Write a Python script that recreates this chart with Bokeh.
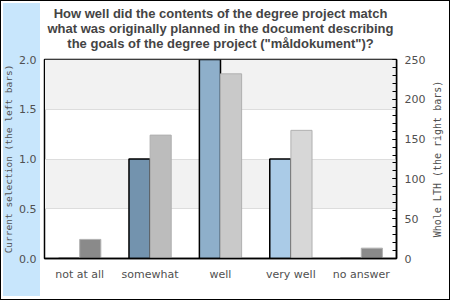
from bokeh.plotting import figure
from bokeh.layouts import row
from bokeh.models import (Range1d, FactorRange, LinearAxis, FixedTicker, NumeralTickFormatter,
                          ColumnDataSource, Title)
from bokeh.transform import dodge
from bokeh.embed import file_html
from bokeh.resources import INLINE

categories = ["not at all", "somewhat", "well", "very well", "no answer"]
current_selection = [0, 1, 2, 1, 0]
whole_lth = [24, 155, 232, 161, 13]
left_colors = ["#5f7f9a", "#7393ae", "#8eafca", "#aacbe7", "#c0d8ee"]
right_colors = ["#8a8a8a", "#bcbcbc", "#c9c9c9", "#d7d7d7", "#8a8a8a"]
left_ticks = [0, 0.5, 1.0, 1.5, 2.0]
right_ticks = [0, 50, 100, 150, 200, 250]
right_minor = list(range(0, 251, 10))
title_lines = ["How well did the contents of the degree project match",
               "what was originally planned in the document describing",
               "the goals of the degree project (\"måldokument\")?"]
left_title = "Current selection (the left bars)"
right_title = "Whole LTH (the right bars)"

lab_color = "#505050"
src = ColumnDataSource(dict(cat=categories, cur=current_selection, whole=whole_lth,
                            lc=left_colors, rc=right_colors))

p = figure(width=428, height=300, x_range=FactorRange(*categories), y_range=Range1d(0, 2),
           output_backend="svg", toolbar_location=None,
           min_border_left=40, min_border_right=31, min_border_top=59, min_border_bottom=42)
p.extra_y_ranges = {"right": Range1d(0, 250)}
p.background_fill_color = "white"
p.border_fill_color = None
p.outline_line_color = "black"
p.outline_line_width = 1.5


def title_line(text, standoff):
    return Title(text=text, align="center", standoff=standoff,
                 text_font="Liberation Sans", text_font_style="bold",
                 text_font_size="13px", text_color="#444444")


try:
    title_objs = [title_line(t, -2.5) for t in title_lines]
    spacer_standoff = 7
except Exception:
    title_objs = [title_line(t, 0) for t in title_lines]
    spacer_standoff = 4

# spacer between title block and frame, then title lines (added from the frame outward)
p.add_layout(Title(text=" ", text_font_size="1px", standoff=spacer_standoff), "above")
for t in reversed(title_objs):
    p.add_layout(t, "above")

p.vbar(x=dodge("cat", -0.15, range=p.x_range), top="cur", width=0.3, source=src,
       fill_color="lc", line_color="black", line_width=1.5)
p.vbar(x=dodge("cat", 0.15, range=p.x_range), top="whole", width=0.3, source=src,
       y_range_name="right", fill_color="rc", line_color="#b0b0b0", line_width=1)

p.xgrid.visible = False
p.ygrid.ticker = FixedTicker(ticks=left_ticks)
p.ygrid.grid_line_color = "#dddddd"
p.ygrid.band_fill_color = "#f2f2f2"
p.ygrid.band_fill_alpha = 1

ax = p.yaxis[0]
ax.ticker = FixedTicker(ticks=left_ticks)
ax.formatter = NumeralTickFormatter(format="0.0")
ax.axis_label = left_title
ax.axis_label_text_font = "DejaVu Sans Mono"
ax.axis_label_text_font_style = "normal"
ax.axis_label_text_font_size = "9.5px"
ax.axis_label_text_color = lab_color
ax.axis_label_standoff = 2
ax.major_label_text_font = "DejaVu Sans"
ax.major_label_text_font_size = "11px"
ax.major_label_text_color = lab_color
ax.major_label_standoff = 8
ax.major_tick_in = 0
ax.major_tick_out = 0
ax.minor_tick_in = 0
ax.minor_tick_out = 0
ax.axis_line_color = "black"

rax = LinearAxis(y_range_name="right",
                 ticker=FixedTicker(ticks=right_ticks, minor_ticks=right_minor))
rax.major_label_text_font = "DejaVu Sans"
rax.major_label_text_font_size = "11px"
rax.major_label_text_color = lab_color
rax.major_label_standoff = 8
rax.major_tick_in = 4
rax.major_tick_out = 0
rax.minor_tick_in = 4
rax.minor_tick_out = 0
rax.major_tick_line_color = "black"
rax.minor_tick_line_color = "black"
rax.axis_line_color = "black"
rax.axis_line_width = 1.5
p.add_layout(rax, "right")

xa = p.xaxis[0]
xa.major_label_text_font = "DejaVu Sans"
xa.major_label_text_font_size = "11px"
xa.major_label_text_color = lab_color
xa.major_label_standoff = 9
xa.major_tick_in = 0
xa.major_tick_out = 0
xa.axis_line_color = "black"
xa.axis_line_width = 1.5

# narrow strip carrying the right-hand axis title, read bottom to top
p2 = figure(width=22, height=300, x_range=Range1d(0, 1), y_range=Range1d(0, 250),
            output_backend="svg", toolbar_location=None,
            min_border_left=14, min_border_right=0, min_border_top=59, min_border_bottom=42)
p2.border_fill_color = None
p2.background_fill_color = None
p2.outline_line_color = None
p2.xaxis.visible = False
p2.grid.visible = False
a2 = p2.yaxis[0]
a2.ticker = FixedTicker(ticks=[125])
a2.major_label_overrides = {125: ""}
a2.major_label_standoff = 0
a2.major_tick_in = 0
a2.major_tick_out = 0
a2.minor_tick_in = 0
a2.minor_tick_out = 0
a2.axis_line_color = None
a2.axis_label = right_title
a2.axis_label_text_font = "DejaVu Sans Mono"
a2.axis_label_text_font_style = "normal"
a2.axis_label_text_font_size = "10px"
a2.axis_label_text_color = lab_color
a2.axis_label_standoff = 0

layout = row(p, p2, spacing=0,
             styles={"background": "linear-gradient(#c8e6fc, #c8e6fc) 3px 3px / 37px 293px no-repeat, white",
                     "outline": "1.5px solid black", "outline-offset": "-1.5px"})

open("out.html", "w").write(file_html(layout, INLINE))
